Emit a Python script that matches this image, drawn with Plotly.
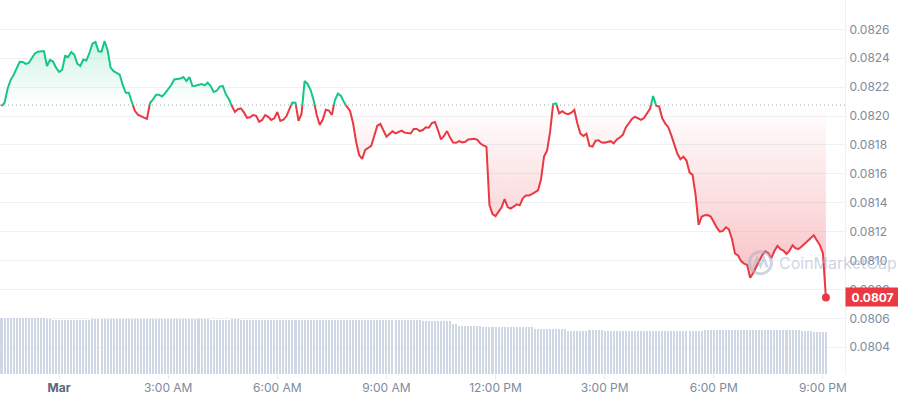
import pandas as pd
import plotly.graph_objects as go

# ---------------- data ----------------
start_time = "2024-02-29 22:25"          # first 5-minute sample
interval = "5min"

prices = [
    0.082070, 0.082090, 0.082187, 0.082249, 0.082284, 0.082336, 0.082375, 0.082374, 0.082361, 0.082367,
    0.082400, 0.082433, 0.082445, 0.082448, 0.082450, 0.082346, 0.082388, 0.082377, 0.082335, 0.082305,
    0.082319, 0.082416, 0.082409, 0.082443, 0.082425, 0.082363, 0.082346, 0.082391, 0.082384, 0.082436,
    0.082501, 0.082512, 0.082448, 0.082446, 0.082519, 0.082457, 0.082335, 0.082310, 0.082296, 0.082287,
    0.082215, 0.082161, 0.082161, 0.082097, 0.082036, 0.082009, 0.081997, 0.081989, 0.081980, 0.082090,
    0.082115, 0.082147, 0.082147, 0.082135, 0.082158, 0.082186, 0.082215, 0.082253, 0.082257, 0.082259,
    0.082270, 0.082242, 0.082270, 0.082208, 0.082209, 0.082215, 0.082222, 0.082212, 0.082231, 0.082208,
    0.082166, 0.082175, 0.082204, 0.082208, 0.082152, 0.082118, 0.082069, 0.082028, 0.082047, 0.082053,
    0.082025, 0.081988, 0.081992, 0.082007, 0.082001, 0.081960, 0.081973, 0.082007, 0.081995, 0.081973,
    0.081984, 0.082028, 0.081966, 0.081975, 0.081998, 0.082055, 0.082093, 0.082092, 0.081966, 0.082016,
    0.082242, 0.082222, 0.082180, 0.082108, 0.082007, 0.081938, 0.081976, 0.082044, 0.082038, 0.082007,
    0.082111, 0.082155, 0.082139, 0.082097, 0.082062, 0.082035, 0.081950, 0.081822, 0.081730, 0.081703,
    0.081766, 0.081779, 0.081793, 0.081864, 0.081933, 0.081945, 0.081900, 0.081857, 0.081876, 0.081894,
    0.081880, 0.081892, 0.081899, 0.081885, 0.081880, 0.081879, 0.081910, 0.081910, 0.081896, 0.081903,
    0.081922, 0.081919, 0.081952, 0.081959, 0.081903, 0.081838, 0.081862, 0.081896, 0.081851, 0.081817,
    0.081815, 0.081826, 0.081817, 0.081822, 0.081838, 0.081842, 0.081843, 0.081835, 0.081810, 0.081797,
    0.081787, 0.081384, 0.081322, 0.081308, 0.081336, 0.081369, 0.081425, 0.081370, 0.081359, 0.081377,
    0.081389, 0.081382, 0.081431, 0.081450, 0.081450, 0.081459, 0.081470, 0.081485, 0.081560, 0.081720,
    0.081761, 0.081890, 0.082083, 0.082087, 0.082018, 0.082033, 0.082018, 0.082013, 0.082023, 0.082042,
    0.081948, 0.081878, 0.081862, 0.081878, 0.081793, 0.081789, 0.081829, 0.081832, 0.081817, 0.081816,
    0.081823, 0.081826, 0.081811, 0.081838, 0.081851, 0.081870, 0.081921, 0.081949, 0.081980, 0.081995,
    0.081986, 0.081974, 0.081986, 0.082016, 0.082052, 0.082139, 0.082072, 0.082065, 0.081984, 0.081948,
    0.081923, 0.081866, 0.081803, 0.081739, 0.081701, 0.081719, 0.081692, 0.081610, 0.081593, 0.081454,
    0.081247, 0.081303, 0.081314, 0.081315, 0.081304, 0.081263, 0.081228, 0.081200, 0.081205, 0.081230,
    0.081215, 0.081149, 0.081049, 0.081035, 0.080996, 0.080979, 0.080970, 0.080881, 0.080912, 0.080955,
    0.080997, 0.081038, 0.081064, 0.081051, 0.081017, 0.081066, 0.081101, 0.081078, 0.081069, 0.081045,
    0.081069, 0.081105, 0.081085, 0.081080, 0.081097, 0.081117, 0.081134, 0.081152, 0.081175, 0.081140,
    0.081107, 0.081052, 0.080745,
]

# 24h rolling volume (millions), one bar per price sample
volume = [
    56.3, 56.3, 56.3, 56.3, 56.3, 56.3, 56.3, 56.3, 56.3, 56.3, 56.3, 56.3, 56.3, 56.3, 56.3,
    55.0, 55.0,
    54.0, 54.0, 54.0, 54.0, 54.0, 54.0, 54.0, 54.0, 54.0, 54.0, 54.0, 54.0, 54.0,
    55.0, 55.0, 55.0, 55.0, 55.0, 55.0, 55.0, 55.0, 55.0, 55.0, 55.0, 55.0, 55.0,
    55.0, 55.0, 55.0, 55.0, 55.0, 55.0, 55.0, 55.0, 55.0, 55.0, 55.0, 55.0, 55.0,
    55.0, 55.0, 55.0, 55.0, 55.0, 55.0, 55.0, 55.0, 55.0, 55.0, 55.0, 55.0, 55.0,
    54.0, 54.0, 54.0, 54.0, 54.0, 54.0, 54.0,
    55.0, 55.0, 55.0,
    54.0, 54.0, 54.0, 54.0, 54.0, 54.0, 54.0, 54.0, 54.0, 54.0, 54.0, 54.0, 54.0, 54.0, 54.0,
    54.0, 54.0, 54.0, 54.0, 54.0, 54.0, 54.0, 54.0, 54.0, 54.0, 54.0, 54.0, 54.0, 54.0, 54.0,
    54.0, 54.0, 54.0, 54.0, 54.0, 54.0, 54.0, 54.0, 54.0, 54.0, 54.0, 54.0, 54.0, 54.0, 54.0,
    54.0, 54.0, 54.0, 54.0, 54.0, 54.0, 54.0, 54.0, 54.0, 54.0, 54.0, 54.0, 54.0, 54.0, 54.0,
    53.0, 53.0, 53.0, 53.0, 53.0, 53.0, 53.0, 53.0, 53.0, 53.0,
    50.0, 50.0,
    48.3, 48.3, 48.3, 48.3, 48.3, 48.3, 48.3, 48.3,
    47.3, 47.3, 47.3, 47.3, 47.3, 47.3, 47.3, 47.3, 47.3, 47.3, 47.3, 47.3, 47.3, 47.3, 47.3, 47.3, 47.3,
    44.7, 44.7, 44.7, 44.7, 44.7, 44.7, 44.7, 44.7, 44.7, 44.7, 44.7,
    43.0, 43.0, 43.0, 43.0, 43.0, 43.0, 43.0,
    44.0, 44.0, 44.0, 44.0, 44.0,
    43.0, 43.0, 43.0, 43.0, 43.0, 43.0, 43.0, 43.0, 43.0, 43.0, 43.0,
    43.0, 43.0, 43.0, 43.0, 43.0, 43.0, 43.0, 43.0, 43.0, 43.0, 43.0,
    43.0, 43.0, 43.0, 43.0, 43.0, 43.0, 43.0, 43.0, 43.0, 43.0, 43.0,
    44.0, 44.0, 44.0, 44.0, 44.0,
    44.3, 44.3, 44.3, 44.3, 44.3, 44.3, 44.3, 44.3, 44.3, 44.3, 44.3, 44.3, 44.3, 44.3,
    44.3, 44.3, 44.3, 44.3, 44.3, 44.3, 44.3, 44.3, 44.3, 44.3, 44.3, 44.3, 44.3,
    43.0, 43.0, 43.0, 43.0,
    41.7, 41.7, 41.7, 41.7, 41.7,
]

base_price = 0.082076          # opening reference price (dotted line)

x_tick_times = ["2024-03-01 00:00", "2024-03-01 03:00", "2024-03-01 06:00", "2024-03-01 09:00",
                "2024-03-01 12:00", "2024-03-01 15:00", "2024-03-01 18:00", "2024-03-01 21:00"]
x_tick_labels = ["Mar", "3:00 AM", "6:00 AM", "9:00 AM", "12:00 PM", "3:00 PM", "6:00 PM", "9:00 PM"]
y_tick_values = [0.0804, 0.0806, 0.0808, 0.0810, 0.0812, 0.0814, 0.0816, 0.0818,
                 0.0820, 0.0822, 0.0824, 0.0826]

# ---------------- styling ----------------
GREEN = "#16c784"
RED = "#ea3943"
GRID = "#eff2f5"
TXT = "#808a9d"
FONT = "Inter, Roboto, sans-serif"
WM = "rgba(165,178,202,0.55)"

times = pd.date_range(start_time, periods=len(prices), freq=interval)

# insert baseline crossings so the line can switch colour exactly at the dotted line
X, Y = [], []
for i in range(len(prices)):
    X.append(times[i])
    Y.append(prices[i])
    if i < len(prices) - 1:
        a = prices[i] - base_price
        b = prices[i + 1] - base_price
        if a * b < 0:
            f = a / (a - b)
            X.append(times[i] + (times[i + 1] - times[i]) * f)
            Y.append(base_price)

up = [max(y, base_price) for y in Y]
down = [min(y, base_price) for y in Y]
green_line = [y if y >= base_price else None for y in Y]
red_line = [y if y <= base_price else None for y in Y]

fig = go.Figure()

# volume bars (own axis, bottom band)
fig.add_trace(go.Bar(
    x=times, y=volume, yaxis="y2", width=200000,
    marker=dict(color="#cfd6e4", line=dict(width=0)),
    hoverinfo="skip", showlegend=False,
))

# green fill above baseline
fig.add_trace(go.Scatter(x=X, y=[base_price] * len(X), mode="lines",
                         line=dict(width=0), hoverinfo="skip", showlegend=False))
fig.add_trace(go.Scatter(
    x=X, y=up, mode="lines", line=dict(width=0), fill="tonexty",
    fillgradient=dict(type="vertical",
                      colorscale=[[0, "rgba(22,199,132,0)"], [1, "rgba(22,199,132,0.20)"]],
                      start=base_price, stop=max(prices)),
    hoverinfo="skip", showlegend=False))

# red fill below baseline
fig.add_trace(go.Scatter(x=X, y=[base_price] * len(X), mode="lines",
                         line=dict(width=0), hoverinfo="skip", showlegend=False))
fig.add_trace(go.Scatter(
    x=X, y=down, mode="lines", line=dict(width=0), fill="tonexty",
    fillgradient=dict(type="vertical",
                      colorscale=[[0, "rgba(234,57,67,0.34)"], [1, "rgba(234,57,67,0)"]],
                      start=min(prices), stop=base_price),
    hoverinfo="skip", showlegend=False))

# price lines
fig.add_trace(go.Scatter(x=X, y=green_line, mode="lines",
                         line=dict(color=GREEN, width=2), connectgaps=False,
                         hoverinfo="skip", showlegend=False))
fig.add_trace(go.Scatter(x=X, y=red_line, mode="lines",
                         line=dict(color=RED, width=2), connectgaps=False,
                         hoverinfo="skip", showlegend=False))

# last price dot
fig.add_trace(go.Scatter(x=[times[-1]], y=[prices[-1]], mode="markers",
                         marker=dict(color=RED, size=8), hoverinfo="skip", showlegend=False))

# dotted reference line
fig.add_shape(type="line", xref="paper", x0=0, x1=1, yref="y",
              y0=base_price, y1=base_price, layer="below",
              line=dict(color="#9ea6b8", width=1, dash="1px,3px"))

# watermark logo (circle with wave) + wordmark
fig.add_shape(type="circle", xref="paper", yref="paper",
              x0=0.8870, x1=0.9130, y0=0.2680, y1=0.3270,
              line=dict(color=WM, width=3))
fig.add_shape(type="path", xref="paper", yref="paper",
              path="M 0.8920 0.2850 L 0.8960 0.3100 L 0.9000 0.2880 L 0.9040 0.3100 L 0.9080 0.2850",
              line=dict(color=WM, width=2.5))
fig.add_annotation(text="CoinMarketCap", xref="paper", yref="paper",
                   x=0.9200, y=0.2975, xanchor="left", yanchor="middle",
                   showarrow=False,
                   font=dict(family=FONT, size=16, color=WM))

# last price badge
fig.add_annotation(text=f"<b>{prices[-1]:.4f}</b>", xref="paper", x=1, xanchor="left",
                   yref="y", y=prices[-1], yanchor="middle", showarrow=False,
                   bgcolor=RED, width=51, height=16, borderpad=1, align="center",
                   font=dict(family=FONT, size=12, color="white"))

tick_text = [f"<b><span style='color:#58667e'>{t}</span></b>" if t == "Mar" else t
             for t in x_tick_labels]

fig.update_layout(
    width=898, height=400,
    margin=dict(l=0, r=53, t=0, b=26),
    plot_bgcolor="white", paper_bgcolor="white",
    font=dict(family=FONT, size=12, color=TXT),
    bargap=0,
    xaxis=dict(
        type="date",
        range=["2024-02-29 22:22:32", "2024-03-01 21:36:30"],
        tickvals=x_tick_times, ticktext=tick_text,
        showgrid=False, zeroline=False, showline=False,
        ticks="outside", ticklen=4, tickcolor="#e6e9ee",
        ticklabelstandoff=-1,
        tickfont=dict(family=FONT, size=12, color=TXT),
    ),
    yaxis=dict(
        side="right", range=[0.0802148, 0.082803],
        tickvals=y_tick_values, tickformat=".4f",
        showgrid=True, gridcolor=GRID, gridwidth=1,
        zeroline=False, showline=True, linecolor=GRID, linewidth=1,
        ticks="", ticklabelstandoff=1,
        tickfont=dict(family=FONT, size=12, color=TXT),
    ),
    yaxis2=dict(overlaying="y", range=[0, 374], visible=False),
)

fig.write_html("out.html", config={"displayModeBar": False},
               post_script="document.body.style.margin='0px';")
